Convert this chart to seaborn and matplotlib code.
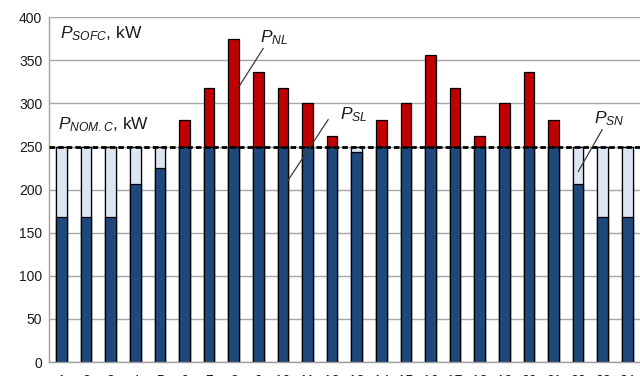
import matplotlib
matplotlib.use("Agg")
import matplotlib.pyplot as plt
from matplotlib.ticker import FixedLocator, NullFormatter
import seaborn as sns
import pandas as pd

# Hourly data for the SOFC plant
hours = list(range(1, 25))
# power delivered by the SOFC (dark blue), kW
p_sofc = [168, 168, 168, 206, 225, 250, 250, 250, 250, 250, 250, 250,
          244, 250, 250, 250, 250, 250, 250, 250, 250, 206, 168, 168]
# total load incl. overload above nominal (red part), kW
p_load = [250, 250, 250, 250, 250, 281, 318, 375, 337, 318, 300, 262,
          250, 281, 300, 356, 318, 262, 300, 337, 281, 250, 250, 250]
# nominal power of the unit, kW
p_nom = 250
y_ticks = [0, 50, 100, 150, 200, 250, 300, 350, 400]

df = pd.DataFrame({
    "hour": hours,
    "sofc": p_sofc,
    "load": p_load,
    "nominal": [p_nom] * len(hours),
})

sns.set_style("white")
plt.rcParams["font.family"] = ["Liberation Sans", "DejaVu Sans"]
plt.rcParams["mathtext.fontset"] = "custom"
plt.rcParams["mathtext.rm"] = "Liberation Sans"
plt.rcParams["mathtext.it"] = "Liberation Sans:italic"
plt.rcParams["lines.scale_dashes"] = False

fig = plt.figure(figsize=(6.4, 3.76), dpi=100)
ax = fig.add_axes([0.077, 0.0372, 0.9225, 0.9168])

c_red = "#C00000"
c_light = "#DCE6F2"
c_dark = "#1F497D"
bar_kw = dict(width=0.43, edgecolor="black", linewidth=0.9, dodge=False,
              saturation=1)

# layered bars give the stacked look: overload, reserve to nominal, SOFC output
sns.barplot(data=df, x="hour", y="load", color=c_red, ax=ax, **bar_kw)
sns.barplot(data=df, x="hour", y="nominal", color=c_light, ax=ax, **bar_kw)
sns.barplot(data=df, x="hour", y="sofc", color=c_dark, ax=ax, **bar_kw)
for p in ax.patches:
    p.set_zorder(2)

ax.axhline(p_nom, color="black", linewidth=2.0, linestyle=(0, (4.0, 2.2)),
           zorder=4)

ax.set_xlim(-0.5, 23.5)
ax.set_ylim(0, 400)
ax.set_xlabel("")
ax.set_ylabel("")

ax.set_yticks(y_ticks)
ax.set_yticklabels([str(v) for v in y_ticks], fontsize=10, color="#1a1a1a")
ax.yaxis.grid(True, color="#A6A6A6", linewidth=1.0)
ax.xaxis.grid(False)
ax.set_axisbelow(True)

# category boundaries carry the tick marks, labels sit at the centres
ax.xaxis.set_major_locator(FixedLocator([i - 0.5 for i in range(len(hours) + 1)]))
ax.xaxis.set_major_formatter(NullFormatter())
ax.set_xticks(list(range(len(hours))), minor=True)
ax.set_xticklabels([str(h) for h in hours], minor=True, fontsize=10, color="#1a1a1a")
ax.tick_params(axis="x", which="major", length=4, width=1, color="#A6A6A6", direction="out")
ax.tick_params(axis="x", which="minor", length=0, pad=8.5)
ax.tick_params(axis="y", length=3, width=1, color="#A6A6A6", direction="out", pad=2)

for side in ("top", "right"):
    ax.spines[side].set_visible(False)
for side in ("left", "bottom"):
    ax.spines[side].set_color("#A0A0A0")
    ax.spines[side].set_linewidth(1.0)

txt = dict(fontsize=12.5, color="#1a1a1a", va="baseline", ha="left", zorder=6)
ax.text(-0.05, 376, r"$P_{SOFC}$, kW", **txt)
ax.text(-0.13, 270, r"$P_{NOM.C}$, kW", **txt)
ax.text(8.08, 371, r"$P_{NL}$", **txt)
ax.text(11.33, 282, r"$P_{SL}$", **txt)
ax.text(21.63, 277.5, r"$P_{SN}$", **txt)

line_kw = dict(color="#3a3a3a", linewidth=0.9, zorder=6)
ax.plot([8.20, 7.19], [364, 318.6], **line_kw)
ax.plot([10.84, 9.17], [281.4, 209.3], **line_kw)
ax.plot([21.98, 21.0], [269.8, 220.9], **line_kw)

fig.savefig("out.png", dpi=100)
